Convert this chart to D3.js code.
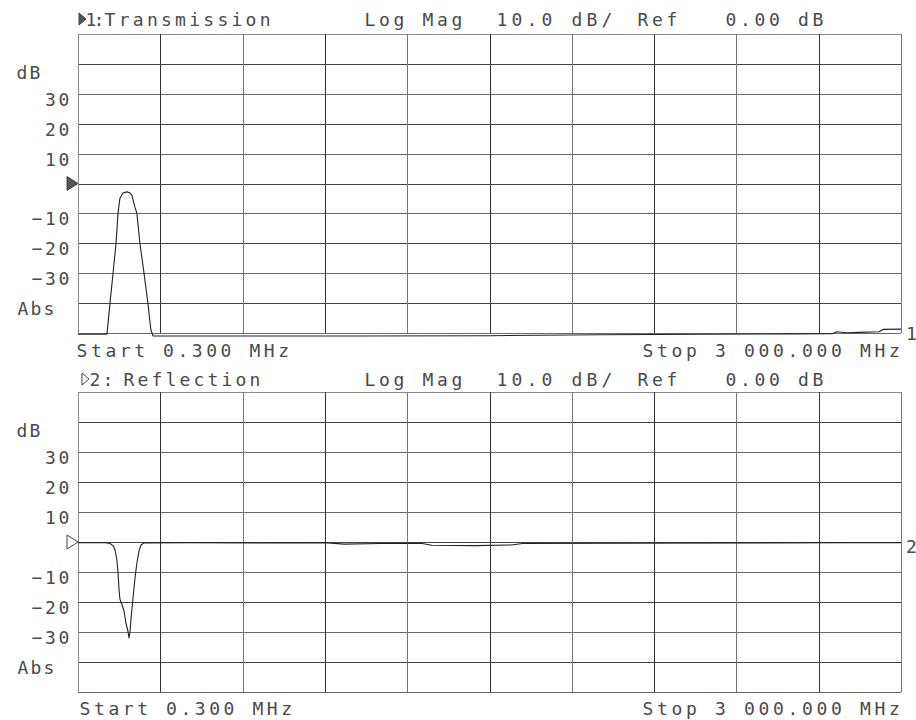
<!DOCTYPE html>
<html>
<head>
<meta charset="utf-8">
<script src="https://cdn.jsdelivr.net/npm/d3@7"></script>
<style>
  html, body { margin: 0; padding: 0; background: #fff; }
  svg { display: block; }
  text { font-family: "DejaVu Sans Mono", "Liberation Mono", monospace; font-size: 18px; fill: #4a4a4a; }
</style>
</head>
<body>
<svg id="chart" width="916" height="720"></svg>
<script>
// ---------- data ----------
const freqRange = [0.3, 3000];           // MHz
const dbRange = [-50, 50];               // dB (10 dB/div, ref 0)
const gridDb = [-50, -40, -30, -20, -10, 0, 10, 20, 30, 40, 50];
const yTickValues = [40, 30, 20, 10, -10, -20, -30, -40];
const yTickLabels = ["dB", "30", "20", "10", "\u221210", "\u221220", "\u221230", "Abs"];

const transFreq = [0.3, 100, 106, 117, 128, 139, 146, 153, 164, 179, 190, 197, 208, 215, 226, 241, 255, 266, 274,
                   600, 1000, 1500, 1900, 2300, 2600, 2752, 2765, 2800, 2850, 2920, 2935, 3000];
const transDb   = [-50.4, -50.4, -50.3, -40, -30, -20, -10, -5, -3.2, -2.8, -3.2, -4, -8, -10, -20, -30, -40, -49, -51,
                   -51, -51, -50.9, -50.6, -50.4, -50.3, -50.2, -49.6, -49.9, -49.8, -49.6, -48.8, -48.7];

const reflFreq = [0.3, 100, 117, 128, 135, 142, 146, 150, 153, 161, 168, 175, 183, 186, 190, 194, 201, 208, 215, 223, 230, 241,
                  400, 700, 900, 970, 1100, 1250, 1290, 1450, 1580, 1620, 2000, 2500, 2800, 3000];
const reflDb   = [-0.2, -0.2, -0.5, -1.2, -2.5, -6, -10, -16, -19, -21, -23, -27, -30, -32, -30, -25, -18.5, -12, -7, -2.8, -1, -0.3,
                  -0.2, -0.3, -0.2, -0.7, -0.5, -0.4, -1.1, -1.2, -1.0, -0.5, -0.4, -0.3, -0.2, -0.2];

const panels = [
  { id: 1, name: "Transmission", top: 34, bottom: 333, headerY: 26, startY: 357, filled: true,
    freq: transFreq, db: transDb, endLabelY: 340 },
  { id: 2, name: "Reflection", top: 392, bottom: 692, headerY: 386, startY: 715, filled: false,
    freq: reflFreq, db: reflDb, endLabelY: 553 }
];

// ---------- drawing ----------
const svg = d3.select("#chart");
const PITCH = 14.5;

function mono(g, str, cx0, y, pitch) {
  const xs = Array.from(str).map((c, i) => cx0 + i * pitch);
  return g.append("text")
    .attr("x", xs.join(" "))
    .attr("y", y)
    .attr("text-anchor", "middle")
    .text(str);
}

const x = d3.scaleLinear().domain(freqRange).range([78, 901]);
const xGrid = d3.range(11).map(i => freqRange[0] + i * (freqRange[1] - freqRange[0]) / 10);

panels.forEach(p => {
  const y = d3.scaleLinear().domain(dbRange).range([p.bottom, p.top]);
  const g = svg.append("g");

  // grid
  g.selectAll(".hg").data(gridDb).join("line")
    .attr("x1", x.range()[0]).attr("x2", x.range()[1])
    .attr("y1", d => Math.round(y(d)) + 0.5).attr("y2", d => Math.round(y(d)) + 0.5)
    .attr("stroke", (d, i) => (d === 50 ? "#8a8a8a" : (i % 2 ? "#444" : "#6a6a6a")))
    .attr("stroke-width", 1);
  g.selectAll(".vg").data(xGrid).join("line")
    .attr("x1", d => Math.round(x(d)) + 0.5).attr("x2", d => Math.round(x(d)) + 0.5)
    .attr("y1", p.top).attr("y2", p.bottom)
    .attr("stroke", (d, i) => (i === 0 ? "#8a8a8a" : (i % 2 ? "#333" : "#777")))
    .attr("stroke-width", 1);

  // trace
  const line = d3.line().x((d, i) => x(p.freq[i])).y(d => y(d));
  g.append("path")
    .attr("d", line(p.db))
    .attr("fill", "none")
    .attr("stroke", "#222")
    .attr("stroke-width", 1.1)
    .attr("stroke-linejoin", "round");

  // y labels
  yTickValues.forEach((v, i) => {
    const lab = yTickLabels[i];
    const yy = y(v) + (lab === "dB" ? 9 : 6) + 6;
    if (lab === "dB" || lab === "Abs") {
      mono(g, lab, 22 + (lab === "Abs" ? 1 : 0), yy, 13);
    } else {
      const n = lab.length;
      mono(g, lab, 64 - (n - 1) * 13.5, yy, 13.5);
    }
  });

  // reference arrow at 0 dB
  const y0 = y(0);
  g.append("path")
    .attr("d", `M67,${y0 - 7}L78,${y0}L67,${y0 + 7}Z`)
    .attr("fill", p.filled ? "#555" : "none")
    .attr("stroke", "#444").attr("stroke-width", 1);

  // header
  const hy = p.headerY;
  g.append("path")
    .attr("d", p.filled
      ? `M79,${hy - 13}L86,${hy - 7}L79,${hy - 1}Z`
      : `M82,${hy - 13}L89,${hy - 7}L82,${hy - 1}Z`)
    .attr("fill", p.filled ? "#555" : "none")
    .attr("stroke", "#444").attr("stroke-width", 1);
  if (p.filled) {
    mono(g, "1:", 91, hy, 8);
    mono(g, p.name, 110, hy, 14.1);
  } else {
    mono(g, "2:", 95, hy, 13);
    mono(g, p.name, 129, hy, 14);
  }
  mono(g, "Log Mag", 370, hy, PITCH);
  mono(g, "10.0 dB/", 502, hy, 15);
  mono(g, "Ref", 643, hy, PITCH);
  mono(g, "0.00 dB", 731, hy, PITCH);

  // start / stop
  mono(g, "Start 0.300 MHz", p.id === 1 ? 82 : 85, p.startY, 14.4);
  mono(g, "Stop 3 000.000 MHz", 648, p.startY, 14.5);

  // trace number at right
  g.append("text").attr("x", 906).attr("y", p.endLabelY).text(String(p.id));
});
</script>
</body>
</html>
